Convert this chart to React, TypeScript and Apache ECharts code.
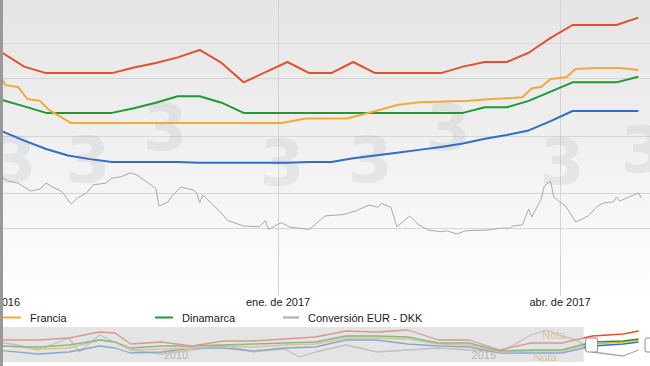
import React, { useEffect, useRef } from 'react';
import * as echarts from 'echarts';

// ---------- helpers ----------
const T0 = Date.UTC(2017, 0, 1);
const day = (s: string) => (Date.parse(s) - T0) / 86400000;
const yearFrac = (s: string) => {
  const [y, m, d] = s.split('-').map(Number);
  return y + ((m || 1) - 1) / 12 + ((d || 1) - 1) / 365;
};

// ---------- main chart data ----------
const mainStart = '2016-09-18';
const mainEnd = '2017-05-01';
const tickDates = ['2016-10-01', '2017-01-01', '2017-04-01'];
const tickLabels = ['oct. de 2016', 'ene. de 2017', 'abr. de 2017'];

const weekDates = [
  '2016-10-05', '2016-10-12', '2016-10-19', '2016-10-26', '2016-11-02', '2016-11-09',
  '2016-11-16', '2016-11-23', '2016-11-30', '2016-12-07', '2016-12-14', '2016-12-21',
  '2016-12-28', '2017-01-04', '2017-01-11', '2017-01-18', '2017-01-25', '2017-02-01',
  '2017-02-08', '2017-02-15', '2017-02-22', '2017-03-01', '2017-03-08', '2017-03-15',
  '2017-03-22', '2017-03-29', '2017-04-05', '2017-04-12', '2017-04-19', '2017-04-26',
];
const redValues = [
  1.390, 1.375, 1.368, 1.368, 1.368, 1.368, 1.374, 1.379, 1.385, 1.393,
  1.379, 1.358, 1.369, 1.380, 1.368, 1.368, 1.380, 1.368, 1.368, 1.368,
  1.368, 1.375, 1.380, 1.380, 1.390, 1.406, 1.420, 1.420, 1.420, 1.428,
];
const dinamarcaValues = [
  1.339, 1.332, 1.325, 1.325, 1.325, 1.325, 1.330, 1.336, 1.343, 1.343,
  1.336, 1.325, 1.325, 1.325, 1.325, 1.325, 1.325, 1.325, 1.325, 1.325,
  1.325, 1.325, 1.331, 1.331, 1.338, 1.348, 1.358, 1.358, 1.358, 1.364,
];
const blueValues = [
  1.305, 1.295, 1.286, 1.279, 1.275, 1.272, 1.272, 1.272, 1.272, 1.271,
  1.271, 1.271, 1.271, 1.271, 1.272, 1.272, 1.276, 1.279, 1.282, 1.285,
  1.288, 1.292, 1.297, 1.301, 1.306, 1.316, 1.327, 1.327, 1.327, 1.327,
];
const franciaDates = [
  '2016-10-05', '2016-10-06', '2016-10-10', '2016-10-13', '2016-10-17', '2016-10-20',
  '2016-10-27', '2017-01-02', '2017-01-10', '2017-01-23', '2017-01-31', '2017-02-08',
  '2017-02-15', '2017-02-21', '2017-03-03', '2017-03-09', '2017-03-20', '2017-03-23',
  '2017-03-26', '2017-03-29', '2017-04-03', '2017-04-06', '2017-04-12', '2017-04-20',
  '2017-04-26',
];
const franciaValues = [
  1.361, 1.355, 1.353, 1.340, 1.338, 1.328,
  1.314, 1.314, 1.319, 1.319, 1.326, 1.3335,
  1.3364, 1.337, 1.3382, 1.3397, 1.3418, 1.3516,
  1.353, 1.3616, 1.3635, 1.3724, 1.3735, 1.3735,
  1.3714,
];
const fxDates = [
  '2016-10-05', '2016-10-07', '2016-10-10', '2016-10-14', '2016-10-17', '2016-10-19',
  '2016-10-21', '2016-10-24', '2016-10-27', '2016-10-29', '2016-11-01', '2016-11-03',
  '2016-11-05', '2016-11-07', '2016-11-09', '2016-11-12', '2016-11-15', '2016-11-17',
  '2016-11-20', '2016-11-23', '2016-11-24', '2016-11-27', '2016-11-28', '2016-12-01',
  '2016-12-05', '2016-12-06', '2016-12-07', '2016-12-08', '2016-12-11', '2016-12-13',
  '2016-12-16', '2016-12-21', '2016-12-26', '2016-12-28', '2016-12-29', '2017-01-02',
  '2017-01-05', '2017-01-11', '2017-01-16', '2017-01-22', '2017-01-26', '2017-01-30',
  '2017-02-02', '2017-02-03', '2017-02-06', '2017-02-08', '2017-02-12', '2017-02-15',
  '2017-02-18', '2017-02-22', '2017-02-24', '2017-02-27', '2017-03-02', '2017-03-09',
  '2017-03-13', '2017-03-16', '2017-03-17', '2017-03-20', '2017-03-22', '2017-03-23',
  '2017-03-26', '2017-03-27', '2017-03-29', '2017-03-30', '2017-04-03', '2017-04-06',
  '2017-04-10', '2017-04-13', '2017-04-15', '2017-04-18', '2017-04-19', '2017-04-20',
  '2017-04-26', '2017-04-27',
];
const fxValues = [
  7.43565, 7.43552, 7.43543, 7.43509, 7.43517, 7.43543,
  7.43526, 7.43507, 7.43452, 7.43478, 7.43502, 7.43535,
  7.43539, 7.43543, 7.43564, 7.43571, 7.43588, 7.43578,
  7.43549, 7.43520, 7.43443, 7.43462, 7.43484, 7.43525,
  7.43513, 7.43501, 7.43458, 7.43491, 7.43452, 7.43426,
  7.43380, 7.43357, 7.43353, 7.43380, 7.43342, 7.43371,
  7.43351, 7.43342, 7.43400, 7.43407, 7.43423, 7.43448,
  7.43438, 7.43455, 7.43438, 7.43353, 7.43400, 7.43361,
  7.43339, 7.43332, 7.43335, 7.43322, 7.43336, 7.43339,
  7.43347, 7.43347, 7.43357, 7.43361, 7.43430, 7.43396,
  7.43474, 7.43530, 7.43552, 7.43483, 7.43439, 7.43374,
  7.43400, 7.43443, 7.43457, 7.43461, 7.43483, 7.43465,
  7.43500, 7.43478,
];

// ---------- navigator data ----------
const navStart = '2006-11-18';
const navEnd = '2017-06-08';
const navWindowStart = '2016-05-10';
const navTickYears = ['2010-01-01', '2015-01-01'];
const navTickLabels = ['2010', '2015'];
const navDates = [
  '2006-11', '2007-07', '2008-01', '2008-07', '2008-10', '2009-01', '2009-07', '2010-01',
  '2010-07', '2011-01', '2011-07', '2012-01', '2012-07', '2013-01', '2013-07', '2014-01',
  '2014-07', '2015-01', '2015-07', '2016-01', '2016-07', '2017-01', '2017-04',
];
const navRed = [22, 22, 24, 30, 29, 18, 20, 16, 21, 21, 23, 25, 31, 30, 32, 22, 22, 12, 19, 19, 26, 28, 31];
const navOrange = [17, 13, 14, 22, 20, 12, 13, 14, 16, 15, 17, 18, 24, 24, 23, 18, 17, 10, 11, 11, 18, 20, 22];
const navGreen = [16, 15, 17, 22, 20, 14, 16, 16, 17, 18, 19, 20, 26, 26, 25, 19, 19, 11, 12, 12, 20, 21, 23];
const navBlue = [12, 8, 10, 16, 14, 9, 10, 14, 14, 11, 14, 15, 22, 22, 18, 16, 15, 9, 9, 9, 16, 18, 20];
const navFxDates = [
  '2006-11', '2007-03', '2007-07', '2008-01', '2008-03', '2008-07', '2009-01', '2009-07',
  '2010-01', '2010-07', '2011-01', '2011-07', '2011-10', '2012-01', '2012-07', '2013-01',
  '2013-07', '2014-01', '2014-07', '2015-01', '2015-04', '2015-07', '2015-10', '2016-01',
  '2016-04', '2016-07', '2017-01', '2017-04',
];
const navFx = [20, 17, 12, 24, 10, 27, 12, 8, 12, 17, 10, 13, 5, 10, 17, 10, 12, 14, 12, 10, 18, 27, 32, 26, 22, 10, 6, 12];
const notaPoints = [
  ['2015-11-16', 27],
  ['2015-09-24', 5],
];

const COLORS = {
  red: '#e4502f',
  orange: '#f2a93b',
  green: '#1e9b32',
  blue: '#2f6ec6',
  gray: '#a9a9a9',
};
const FONT = "'Liberation Sans', Arial, sans-serif";

const pairs = (dates: string[], vals: number[], f: (s: string) => number) =>
  dates.map((d, i) => [f(d), vals[i]]);

export default function App() {
  const ref = useRef<HTMLDivElement>(null);

  useEffect(() => {
    if (!ref.current) return;
    const chart = echarts.init(ref.current, undefined, { renderer: 'svg' });
    const tickDays = tickDates.map(day);
    const navTicks = navTickYears.map(yearFrac);

    const mainLine = (name: string, data: any, color: string, yIdx: number, width: number) => ({
      name,
      type: 'line',
      xAxisIndex: 0,
      yAxisIndex: yIdx,
      data,
      showSymbol: false,
      symbol: 'none',
      silent: true,
      lineStyle: { color, width },
      itemStyle: { color },
      z: 3,
    });
    const navLine = (name: string, data: any, color: string, extra: any = {}) => ({
      name,
      type: 'line',
      xAxisIndex: 1,
      yAxisIndex: 2,
      data,
      showSymbol: false,
      symbol: 'none',
      silent: true,
      lineStyle: { color, width: 1.3 },
      itemStyle: { color },
      ...extra,
    });

    const watermarks = [
      [14, 160], [88, 160], [165, 128], [282, 163], [370, 160], [448, 128], [562, 162], [643, 150],
    ];

    const legendBase = {
      top: 312,
      padding: 0,
      icon: 'rect',
      itemHeight: 2,
      selectedMode: false,
      textStyle: { fontSize: 11, color: '#222', fontFamily: FONT, padding: [0, 0, 0, 4] },
    };

    chart.setOption({
      animation: false,
      grid: [
        { left: -51, width: 705, top: 0, height: 296, outerBoundsMode: 'none', containLabel: false },
        {
          left: 0, right: 0, top: 327, height: 35, show: true,
          backgroundColor: '#ffffff', borderWidth: 0, outerBoundsMode: 'none', containLabel: false,
        },
      ],
      xAxis: [
        {
          type: 'value', gridIndex: 0, min: day(mainStart), max: day(mainEnd),
          axisLine: { show: false },
          axisTick: { show: false, customValues: tickDays },
          axisLabel: {
            customValues: tickDays,
            formatter: (v: number) => tickLabels[tickDays.indexOf(v)] ?? '',
            fontSize: 11, color: '#222', fontFamily: FONT, margin: 0,
          },
          splitLine: { show: true, lineStyle: { color: '#d4d4d4', width: 1 } },
        },
        {
          type: 'value', gridIndex: 1, min: yearFrac(navStart), max: yearFrac(navEnd),
          axisLine: { show: false },
          axisTick: { show: false, customValues: navTicks },
          axisLabel: {
            customValues: navTicks,
            formatter: (v: number) => navTickLabels[navTicks.indexOf(v)] ?? '',
            inside: true, align: 'right', margin: 2, padding: [0, 4, 0, 0],
            fontSize: 11, color: '#8a8a8a', fontFamily: FONT,
          },
          splitLine: { show: true, lineStyle: { color: '#ffffff', width: 1 } },
        },
      ],
      yAxis: [
        {
          type: 'value', gridIndex: 0, min: 1.127027, max: 1.447027, splitNumber: 3,
          axisLine: { show: false }, axisTick: { show: false }, axisLabel: { show: false },
          splitLine: { show: true, showMinLine: false, showMaxLine: false, lineStyle: { color: '#d6d6d6' } },
        },
        {
          type: 'value', gridIndex: 0, min: 7.430522, max: 7.443391, splitNumber: 2,
          axisLine: { show: false }, axisTick: { show: false }, axisLabel: { show: false },
          splitLine: { show: true, showMinLine: false, showMaxLine: false, lineStyle: { color: '#d6d6d6' } },
        },
        { type: 'value', gridIndex: 1, min: 0, max: 35, show: false, splitLine: { show: false } },
      ],
      legend: [
        { ...legendBase, left: 3, itemWidth: 18, data: ['Francia'] },
        { ...legendBase, left: 155, itemWidth: 18, data: ['Dinamarca'] },
        { ...legendBase, left: 283, itemWidth: 16, data: ['Conversión EUR - DKK'] },
      ],
      series: [
        mainLine('Conversión EUR - DKK', pairs(fxDates, fxValues, day), COLORS.gray, 1, 1),
        mainLine('Serie azul', pairs(weekDates, blueValues, day), COLORS.blue, 0, 2),
        mainLine('Dinamarca', pairs(weekDates, dinamarcaValues, day), COLORS.green, 0, 2),
        mainLine('Francia', pairs(franciaDates, franciaValues, day), COLORS.orange, 0, 2),
        mainLine('Serie roja', pairs(weekDates, redValues, day), COLORS.red, 0, 2),
        navLine('nav fx', pairs(navFxDates, navFx, yearFrac), COLORS.gray),
        navLine('nav azul', pairs(navDates, navBlue, yearFrac), COLORS.blue),
        navLine('nav Francia', pairs(navDates, navOrange, yearFrac), COLORS.orange, {
          markPoint: {
            silent: true,
            symbol: 'rect',
            symbolSize: 0,
            label: { show: true, position: 'inside', formatter: 'Nota', color: '#f3a95a', fontSize: 11, fontFamily: FONT },
            data: notaPoints.map((p) => ({ coord: [yearFrac(p[0] as string), p[1]] })),
          },
        }),
        navLine('nav Dinamarca', pairs(navDates, navGreen, yearFrac), COLORS.green),
        navLine('nav roja', pairs(navDates, navRed, yearFrac), COLORS.red),
      ],
    });

    const winPx = chart.convertToPixel({ xAxisIndex: 1 } as any, yearFrac(navWindowStart)) as number;

    chart.setOption({
      graphic: [
        ...watermarks.map(([x, y]) => ({
          type: 'text', x, y, z: 1, silent: true,
          style: {
            text: '3', fill: 'rgba(150,160,172,0.17)', font: "bold 64px 'DejaVu Sans'",
            align: 'center', verticalAlign: 'middle',
          },
        })),
        { type: 'rect', z: 50, silent: true, shape: { x: 0, y: 327, width: winPx, height: 35 }, style: { fill: 'rgba(208,208,208,0.58)' } },
        { type: 'rect', z: 51, silent: true, shape: { x: winPx + 2, y: 338, width: 12, height: 14, r: 2 }, style: { fill: '#ffffff', stroke: '#8c8c8c', lineWidth: 1 } },
        { type: 'rect', z: 51, silent: true, shape: { x: 645, y: 338, width: 12, height: 14, r: 2 }, style: { fill: '#ffffff', stroke: '#8c8c8c', lineWidth: 1 } },
        { type: 'rect', z: 60, silent: true, shape: { x: 0, y: 0, width: 3, height: 366 }, style: { fill: '#999999' } },
      ],
    });

    return () => chart.dispose();
  }, []);

  return (
    <div
      ref={ref}
      style={{
        position: 'fixed', left: 0, top: 0, width: 650, height: 366,
        background: 'linear-gradient(to bottom, #e5e5e5 0px, #eeeeee 120px, #f8f8f8 230px, #ffffff 300px, #ffffff 366px)',
      }}
    />
  );
}
